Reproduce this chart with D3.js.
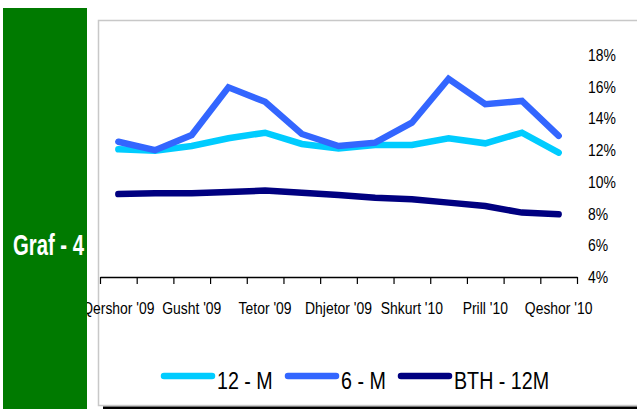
<!DOCTYPE html>
<html><head><meta charset="utf-8">
<script src="https://cdn.jsdelivr.net/npm/d3@7"></script>
<style>
html,body{margin:0;padding:0;background:#fff;}
svg{display:block;font-family:"Liberation Sans",Arial,sans-serif;}
</style></head><body>
<svg id="c" width="637" height="409"></svg>
<script>
const categories = ["Qershor '09","Korrik '09","Gusht '09","Shtator '09","Tetor '09","Nëntor '09","Dhjetor '09","Janar '10","Shkurt '10","Mars '10","Prill '10","Maj '10","Qeshor '10"];
const series12M = [12.05, 11.97, 12.26, 12.75, 13.1, 12.39, 12.11, 12.32, 12.32, 12.75, 12.43, 13.1, 11.84];
const series6M  = [12.53, 12.0, 12.95, 15.96, 15.05, 13.02, 12.26, 12.47, 13.73, 16.5, 14.9, 15.1, 12.9];
const seriesBTH = [9.23, 9.28, 9.28, 9.36, 9.45, 9.32, 9.17, 9.0, 8.9, 8.69, 8.48, 8.06, 7.95];
const yTicks = [4, 6, 8, 10, 12, 14, 16, 18];
const seriesNames = ["12 - M", "6 - M", "BTH - 12M"];
const seriesColors = ["#00CCFF", "#3366FF", "#000080"];
const panelTitle = "Graf - 4";

const svg = d3.select("#c");
const NARROW = 0.82;

// condensed text helper
function ntext(parent, tx, ty, str, size, anchor, sx, weight) {
  const g = parent.append("g").attr("transform", `translate(${tx},${ty}) scale(${sx || NARROW},1)`);
  const t = g.append("text").attr("x", 0).attr("y", 0).attr("font-size", size)
    .attr("text-anchor", anchor || "start").attr("fill", "#000").text(str);
  if (weight) t.attr("font-weight", weight);
  return t;
}

// frame
svg.append("rect").attr("x", 98.5).attr("y", 20.5).attr("width", 600).attr("height", 385)
  .attr("fill", "#fff").attr("stroke", "#c8c8c8").attr("stroke-width", 1.5);
svg.append("rect").attr("x", 103).attr("y", 406.5).attr("width", 540).attr("height", 3).attr("fill", "#000");

const x = d3.scaleBand().domain(categories).range([100, 577]).padding(0);
const xEdges = d3.scaleLinear().domain([0, categories.length]).range([100, 577]);
const y = d3.scaleLinear().domain([4, 18]).range([277, 55]);

// x axis with ticks at band edges
const gx = svg.append("g").attr("transform", "translate(0,277)")
  .call(d3.axisBottom(xEdges).tickValues(d3.range(0, categories.length + 1)).tickFormat("").tickSizeInner(7).tickSizeOuter(0));
gx.select(".domain").attr("stroke", "#000").attr("stroke-width", 1.3);
gx.selectAll(".tick line").attr("stroke", "#000").attr("stroke-width", 1.2);

// x labels (every other)
const gxl = svg.append("g");
categories.forEach((d, i) => {
  if (i % 2 === 0) ntext(gxl, x(d) + x.bandwidth() / 2, 314, d, 17, "middle");
});

// y labels on right
const gyl = svg.append("g");
yTicks.forEach(v => {
  ntext(gyl, 588, y(v), v + "%", 17, "start").attr("dy", "0.35em");
});

const line = d3.line().x((d, i) => x(categories[i]) + x.bandwidth() / 2).y(d => y(d));
const allSeries = [series12M, series6M, seriesBTH];
[seriesBTH, series12M, series6M].forEach(s => {
  const idx = allSeries.indexOf(s);
  svg.append("path").datum(s).attr("d", line).attr("fill", "none")
    .attr("stroke", seriesColors[idx]).attr("stroke-width", 6.5)
    .attr("stroke-linecap", "round").attr("stroke-linejoin", "miter");
});

// legend
const legX = [161, 285, 398];
const lg = svg.append("g");
seriesNames.forEach((n, i) => {
  lg.append("line").attr("x1", legX[i] + 3).attr("x2", legX[i] + 51).attr("y1", 376).attr("y2", 376)
    .attr("stroke", seriesColors[i]).attr("stroke-width", 6.5).attr("stroke-linecap", "round");
  ntext(lg, legX[i] + 56, 389, n, 24, "start");
});

// green panel
svg.append("rect").attr("x", 3).attr("y", 8).attr("width", 84).attr("height", 401).attr("fill", "#007A00");
ntext(svg, 48.5, 255, panelTitle, 29, "middle", 0.7, "bold").attr("fill", "#fff");
</script>
</body></html>
